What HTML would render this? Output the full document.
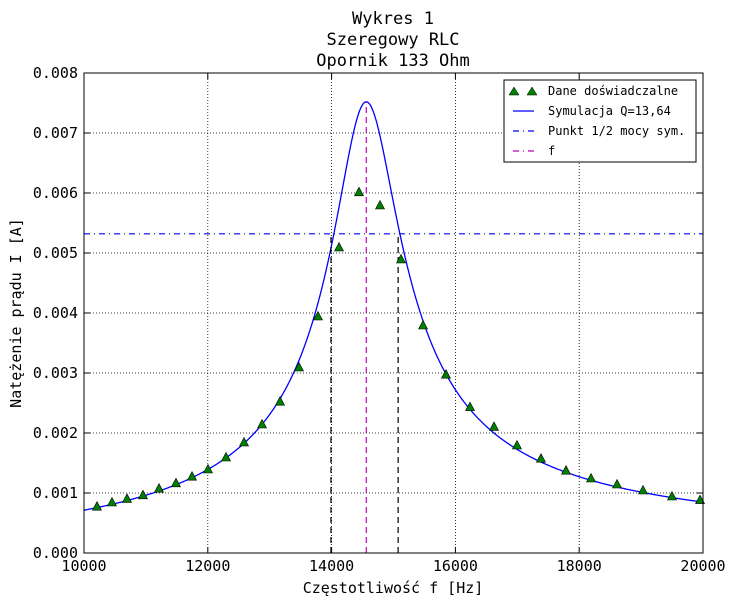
<!DOCTYPE html>
<html><head><meta charset="utf-8"><style>
body{margin:0;background:#fff;}
svg{display:block;font-family:"DejaVu Sans Mono","Liberation Mono",monospace;}
</style></head><body>
<svg id="c" width="734" height="607">
<text x="393" y="24" text-anchor="middle" font-size="17">Wykres 1</text>
<text x="393" y="45" text-anchor="middle" font-size="17">Szeregowy RLC</text>
<text x="393" y="66" text-anchor="middle" font-size="17">Opornik 133 Ohm</text>
<text x="393" y="593" text-anchor="middle" font-size="15">Częstotliwość f [Hz]</text>
<text x="21" y="313" text-anchor="middle" font-size="15" transform="rotate(-90 21 313)">Natężenie prądu I [A]</text>
<g id="grid"></g><g id="plot"></g><g id="ticks"></g>
<rect x="84" y="73" width="619" height="480" fill="none" stroke="#000" stroke-width="1"/>
<g>
<rect x="504" y="80" width="192" height="82" fill="#fff" stroke="#000"/>
<polygon points="509,95 514,87 519,95" fill="#008000" stroke="#000" stroke-width="0.5"/>
<polygon points="527,95 532,87 537,95" fill="#008000" stroke="#000" stroke-width="0.5"/>
<text x="548" y="95" font-size="12">Dane doświadczalne</text>
<line x1="513" y1="111" x2="534" y2="111" stroke="#0000ff" stroke-width="1.3"/>
<text x="548" y="115" font-size="12">Symulacja Q=13,64</text>
<line x1="513" y1="131" x2="534" y2="131" stroke="#0000ff" stroke-width="1.3" stroke-dasharray="6,4,1,4"/>
<text x="548" y="135" font-size="12">Punkt 1/2 mocy sym.</text>
<line x1="513" y1="151" x2="534" y2="151" stroke="#bf00bf" stroke-width="1.3" stroke-dasharray="6,4,1,4"/>
<text x="548" y="155" font-size="12">f</text>
</g>
</svg>
<script>
const freqs=[10210,10452,10695,10953,11212,11486,11745,12003,12294,12585,12876,13167,13473,13780,14120,14443,14782,15121,15477,15848,16236,16624,16995,17383,17787,18191,18611,19031,19499,19952];
const currents=[0.00078,0.00085,0.00091,0.00097,0.00108,0.00117,0.00128,0.0014,0.0016,0.00185,0.00215,0.00253,0.0031,0.00395,0.0051,0.00602,0.0058,0.0049,0.0038,0.00298,0.00244,0.00211,0.0018,0.00158,0.00138,0.00125,0.00115,0.00105,0.00095,0.00089];
const simParams=[0.00752,14560,13.64]; // Imax, f0, Q
const halfPower=[0.00532];
const bandEdges=[13990,15075];
const resonance=[14560];
const xTicks=[10000,12000,14000,16000,18000,20000];
const yTicks=[0,0.001,0.002,0.003,0.004,0.005,0.006,0.007,0.008];
const yTickLabels=["0.000","0.001","0.002","0.003","0.004","0.005","0.006","0.007","0.008"];
const NS="http://www.w3.org/2000/svg";
const X=f=>84+(f-10000)/10000*619, Y=v=>553-v/0.008*480;
function mk(t,a,p){const e=document.createElementNS(NS,t);for(const k in a)e.setAttribute(k,a[k]);p.appendChild(e);return e;}
const grid=document.getElementById('grid'),plot=document.getElementById('plot'),ticks=document.getElementById('ticks');
xTicks.forEach(t=>{const x=X(t);
 const g=mk('line',{x1:x,y1:73,x2:x,y2:553,stroke:'#000','stroke-dasharray':'1,2','stroke-width':0.8},grid);
 
 mk('line',{x1:x,y1:553,x2:x,y2:547,stroke:'#000'},ticks);mk('line',{x1:x,y1:73,x2:x,y2:79,stroke:'#000'},ticks);
 const l=mk('text',{x:x,y:571,'text-anchor':'middle','font-size':15},ticks);l.textContent=t;
 });
yTicks.forEach((t,i)=>{const y=Y(t);
 const g=mk('line',{x1:84,y1:y,x2:703,y2:y,stroke:'#000','stroke-dasharray':'1,2','stroke-width':0.8},grid);
 
 mk('line',{x1:84,y1:y,x2:90,y2:y,stroke:'#000'},ticks);mk('line',{x1:703,y1:y,x2:697,y2:y,stroke:'#000'},ticks);
 const l=mk('text',{x:78,y:y+5,'text-anchor':'end','font-size':15},ticks);l.textContent=yTickLabels[i];
 });
const sim=f=>{const[I,f0,Q]=simParams;const d=f/f0-f0/f;return I/Math.sqrt(1+Q*Q*d*d);};
let d='';for(let f=10000;f<=20000;f+=10){d+=(f===10000?'M':'L')+X(f).toFixed(2)+','+Y(sim(f)).toFixed(2);}
const c=mk('path',{d:d,fill:'none',stroke:'#0000ff','stroke-width':1.3},plot);

const h=mk('line',{x1:84,y1:Y(halfPower[0]),x2:703,y2:Y(halfPower[0]),stroke:'#0000ff','stroke-width':1.2,'stroke-dasharray':'6,4,1,4'},plot);

bandEdges.forEach(f=>{const l=mk('line',{x1:X(f),y1:553,x2:X(f),y2:Y(halfPower[0]),stroke:'#000','stroke-width':1.2,'stroke-dasharray':'6,4'},plot);
 });
const r=mk('line',{x1:X(resonance[0]),y1:553,x2:X(resonance[0]),y2:Y(sim(resonance[0])),stroke:'#bf00bf','stroke-width':1.2,'stroke-dasharray':'6,4'},plot);

freqs.forEach((f,i)=>{const x=X(f),y=Y(currents[i]);
 const p=mk('polygon',{points:`${x-4.5},${y+4} ${x},${y-4.5} ${x+4.5},${y+4}`,fill:'#008000',stroke:'#000','stroke-width':0.6},plot);
 });
</script>
</body></html>
